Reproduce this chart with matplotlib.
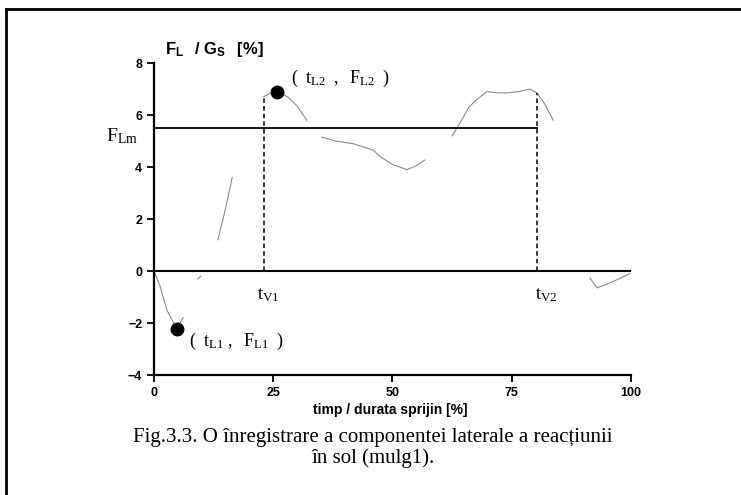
import numpy as np
import matplotlib
matplotlib.use('Agg')
from matplotlib import pyplot as plt
from matplotlib.lines import Line2D

plt.rcParams['mathtext.fontset'] = 'custom'
plt.rcParams['mathtext.rm'] = 'Liberation Serif'
plt.rcParams['mathtext.it'] = 'Liberation Serif:italic'
plt.rcParams['mathtext.bf'] = 'Liberation Serif:bold'
plt.rcParams['mathtext.sf'] = 'Liberation Sans:bold'

# lateral force curve (nan = gaps in the printed trace)
t = [0, 1.3, 2.7, 4.8, 6.1, np.nan, 9.2, 9.8, np.nan, 13.4, 15, 16.4, np.nan,
     23, 24.5, 25.8, 28, 30, 32, np.nan, 35.2, 38, 41.7, 46, 47.4, 50, 53, 55,
     56.8, np.nan, 62.5, 63.5, 64.8, 66, 67.7, 69.8, 72, 74, 76.5, 78.8, 80.3,
     82, 83.7, np.nan, 91.4, 92.9, 95, 97.5, 99.8]
fl = [0, -0.6, -1.5, -2.23, -1.8, np.nan, -0.3, -0.2, np.nan, 1.2, 2.4, 3.6, np.nan,
      6.7, 6.85, 6.9, 6.7, 6.35, 5.8, np.nan, 5.15, 5.0, 4.9, 4.65, 4.4, 4.1, 3.9, 4.05,
      4.27, np.nan, 5.2, 5.5, 5.9, 6.3, 6.6, 6.9, 6.85, 6.85, 6.9, 7.0, 6.85,
      6.4, 5.8, np.nan, -0.27, -0.65, -0.5, -0.3, -0.1]

peaks_t = [4.8, 25.8]
peaks_f = [-2.23, 6.9]
f_lm = 5.5
t_v1, f_v1 = 23, 6.7
t_v2, f_v2 = 80.3, 6.85

xticks = [0, 25, 50, 75, 100]
yticks = [-4, -2, 0, 2, 4, 6, 8]

fig = plt.figure(figsize=(7.41, 4.95), dpi=100)
ax = fig.add_axes([0.2078, 0.2424, 0.6437, 0.6303])

ax.plot(t, fl, color='#8a8a8a', lw=0.8)
ax.plot(peaks_t, peaks_f, 'o', color='black', ms=9)
ax.plot([0, 100], [0, 0], color='black', lw=1.5)
ax.plot([0, t_v2], [f_lm, f_lm], color='black', lw=1.3)
ax.plot([t_v1, t_v1], [0, f_v1], color='black', lw=1.1, ls=(0, (3, 2)))
ax.plot([t_v2, t_v2], [0, f_v2], color='black', lw=1.1, ls=(0, (3, 2)))

ax.set_xlim(0, 100)
ax.set_ylim(-4, 8)
ax.set_xticks(xticks)
ax.set_yticks(yticks)
for s in ['top', 'right']:
    ax.spines[s].set_visible(False)
for s in ['left', 'bottom']:
    ax.spines[s].set_linewidth(1.6)
ax.tick_params(length=5, width=1.3, labelsize=9)
for lab in ax.get_xticklabels() + ax.get_yticklabels():
    lab.set_fontfamily('Liberation Sans')
    lab.set_fontweight('bold')

serif = 'Liberation Serif'
ax.text(-6.8, 5.2, r'$\mathrm{F_{Lm}}$', fontsize=14, ha='center', va='center', clip_on=False)
ax.text(21.6, -0.9, r'$\mathrm{t_{V1}}$', fontsize=13.5, ha='left', va='center')
ax.text(79.8, -0.9, r'$\mathrm{t_{V2}}$', fontsize=13.5, ha='left', va='center')
ax.text(7.3, -2.7, r'$\mathrm{(\ \ t_{L1}\ ,\ \ F_{L1}\ \ )}$', fontsize=13, ha='left', va='center')
ax.text(28.8, 7.4, r'$\mathrm{(\ \ t_{L2}\ \ ,\ \ F_{L2}\ \ )}$', fontsize=13, ha='left', va='center')

fig.text(0.222, 0.899, r'$\mathsf{F_L\ \ \ /\ G_S\ \ \ [\%]}$', fontsize=12, ha='left', va='center')
fig.text(0.526, 0.172, 'timp / durata sprijin [%]', fontsize=10, fontweight='bold',
         family='Liberation Sans', ha='center', va='center')
fig.text(0.503, 0.117, 'Fig.3.3. O înregistrare a componentei laterale a reacțiunii',
         fontsize=15, family=serif, ha='center', va='center')
fig.text(0.503, 0.075, 'în sol (mulg1).', fontsize=15, family=serif, ha='center', va='center')

# page frame
fig.add_artist(Line2D([0.008, 0.008], [0.0, 0.982], color='black', lw=2))
fig.add_artist(Line2D([0.008, 1.0], [0.982, 0.982], color='black', lw=2))

plt.savefig('out.png', dpi=100)
